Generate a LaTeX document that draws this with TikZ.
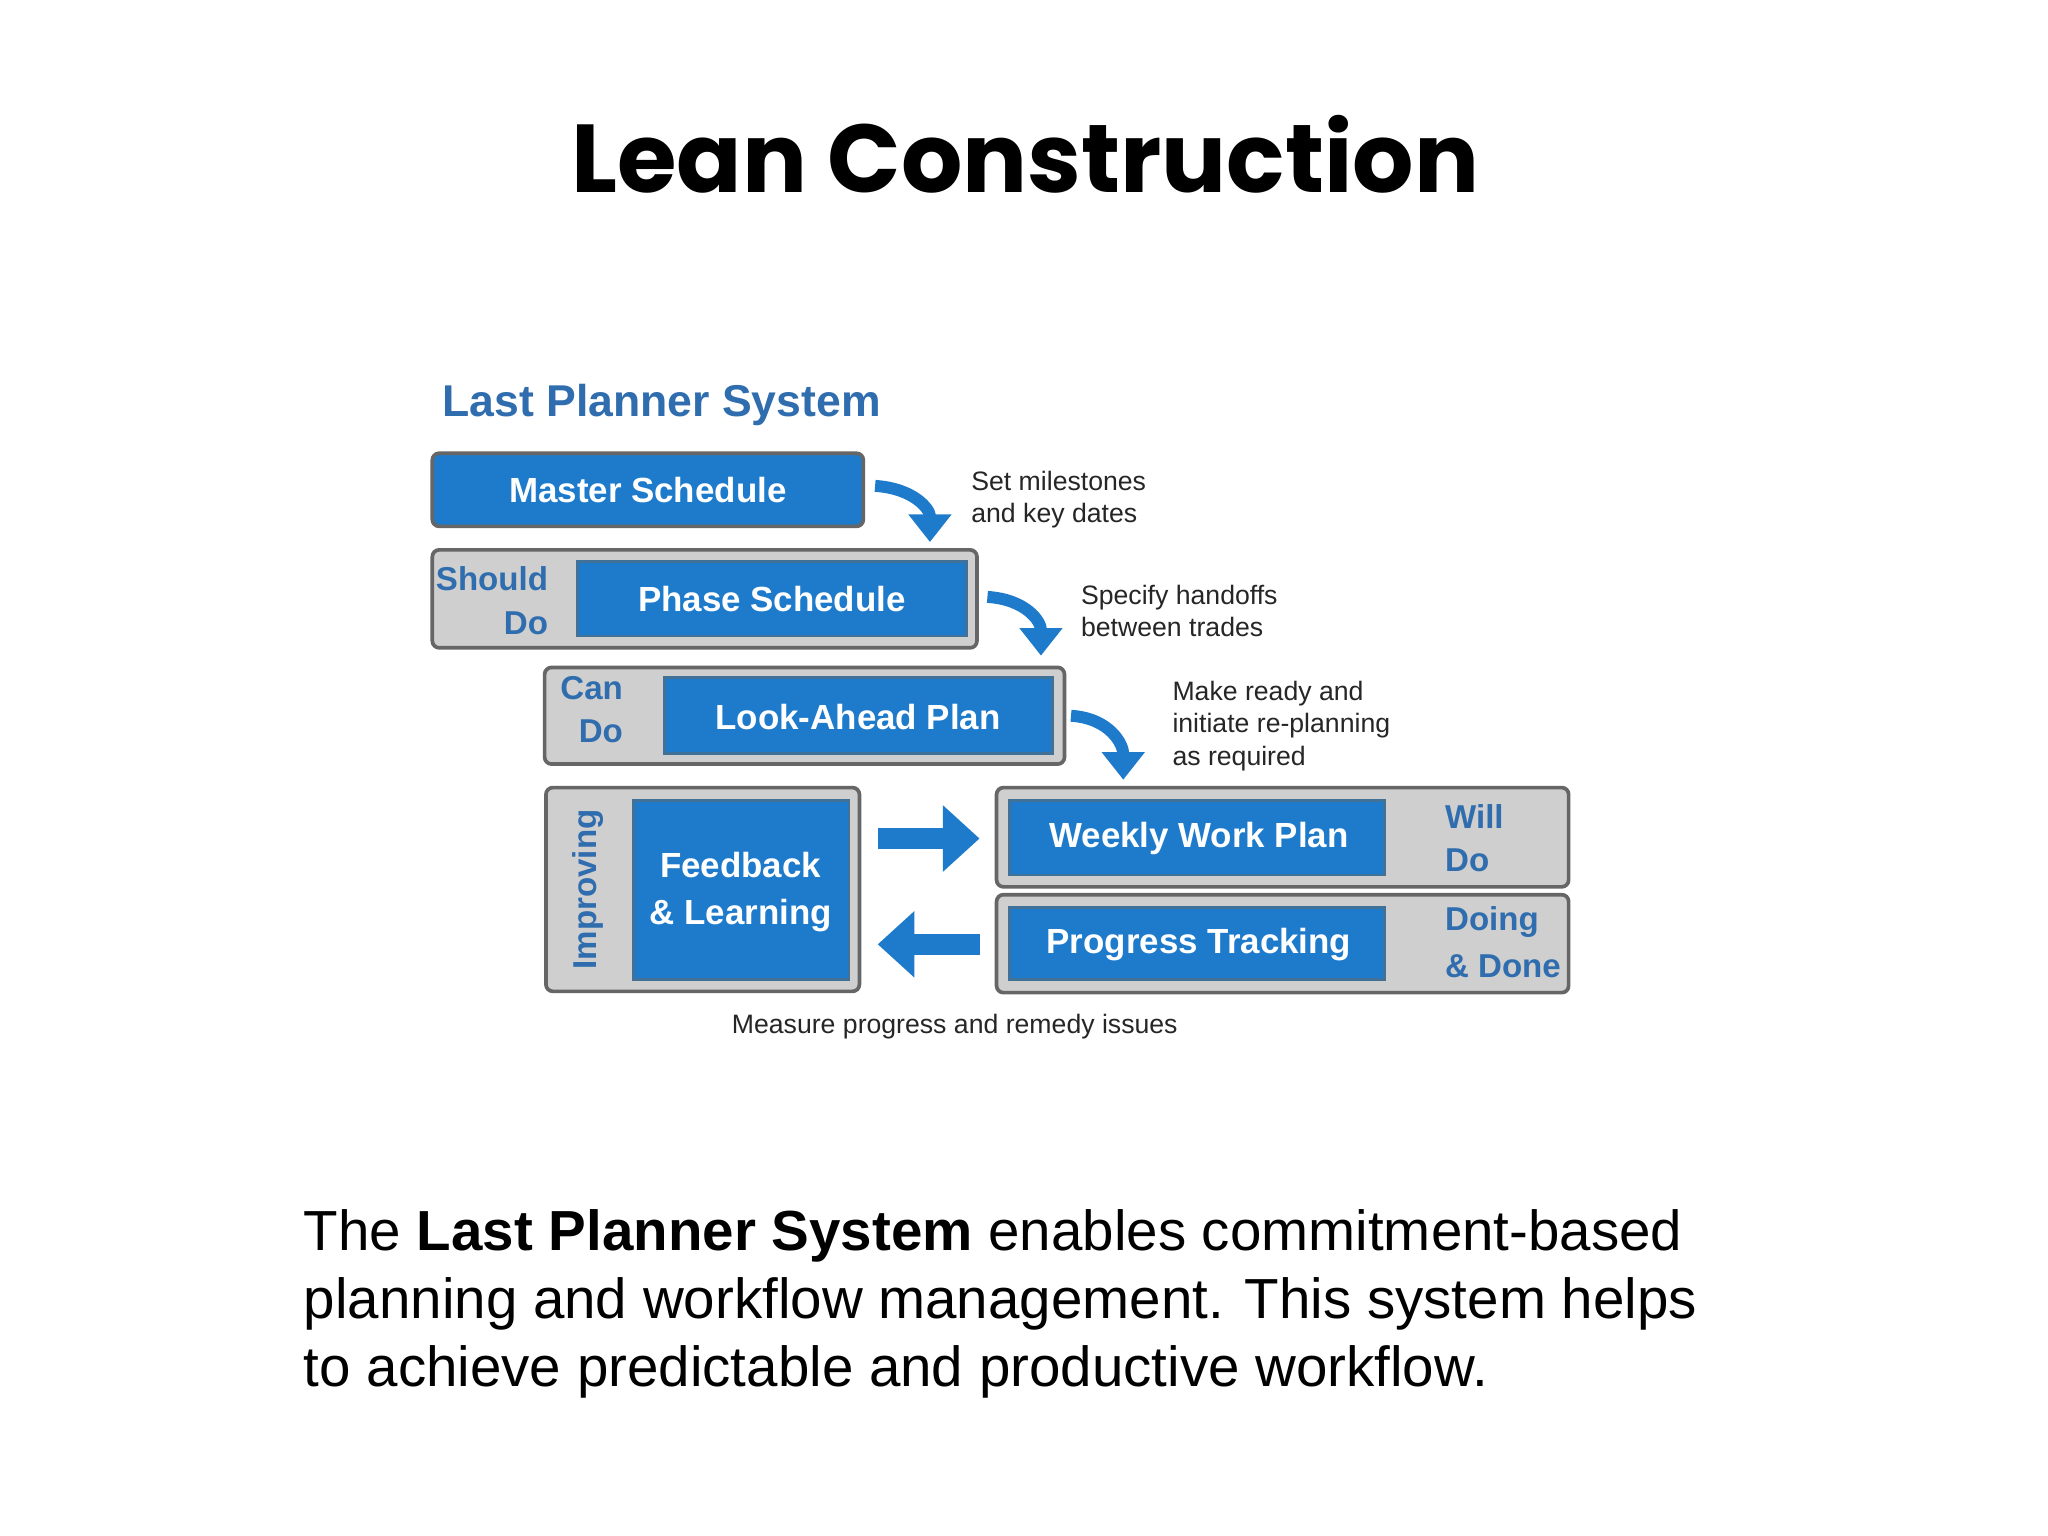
\documentclass[tikz,border=0pt]{standalone}
\usepackage{fontspec}
\setmainfont{Liberation Sans}
\newfontfamily\titlefont{Poppins}
\usetikzlibrary{arrows.meta}
\definecolor{lpblue}{HTML}{1E7BCB}
\definecolor{lpdark}{HTML}{2F6DAE}
\definecolor{lpgray}{HTML}{CFCFCF}
\definecolor{lpedge}{HTML}{666666}
\tikzset{
 graybox/.style={draw=lpedge,fill=lpgray,line width=0.8pt,rounded corners=1.5pt},
 bluebox/.style={draw=lpedge!50!lpblue,fill=lpblue,line width=0.6pt},
 boxtext/.style={text=white,font=\bfseries\fontsize{7.6}{10.2}\selectfont,align=center},
 sidetext/.style={text=lpdark,font=\bfseries\fontsize{7.2}{9}\selectfont,anchor=west},
 note/.style={font=\fontsize{5.8}{7}\selectfont,anchor=north west,align=left,inner sep=0pt,text=black!85},
 curvearrow/.style={draw=lpblue,line width=2.6pt,-{Triangle[length=6pt,width=9pt]}},
 blockarrow/.style={draw=lpblue,line width=4.5pt,-{Triangle[length=8pt,width=14pt]}}
}
\begin{document}
\begin{tikzpicture}[x=0.01cm,y=-0.01cm]
\useasboundingbox[fill=white] (0,0) rectangle (1568,1176);
\node[font=\titlefont\bfseries\fontsize{21}{25}\selectfont] (title) at (785,118) {Lean Construction};
\node[anchor=west,text=lpdark,font=\bfseries\fontsize{9.7}{12}\selectfont,inner sep=0pt] (lps) at (338,310) {Last Planner System};
% master
\draw[bluebox,draw=lpedge,line width=0.8pt,rounded corners=1.5pt] (331,347) rectangle (661,403);
\node[boxtext] (ms) at (496,375) {Master Schedule};
% phase
\draw[graybox] (331,421) rectangle (748,496);
\draw[bluebox] (442,430) rectangle (740,487);
\node[boxtext] (ps) at (591,459) {Phase Schedule};
\node[sidetext,anchor=east] (sh) at (432,443) {Should};
\node[sidetext,anchor=east] (sd) at (432,477) {Do};
% look ahead
\draw[graybox] (417,511) rectangle (815,585);
\draw[bluebox] (509,519) rectangle (806,577);
\node[boxtext] (la) at (657,549) {Look-Ahead Plan};
\node[sidetext,anchor=center] (cn) at (453,527) {Can};
\node[sidetext,anchor=center] (cd) at (460,560) {Do};
% improving
\draw[graybox] (418,603) rectangle (658,759);
\draw[bluebox] (485,613) rectangle (650,750);
\node[boxtext] (fl) at (567,683) {Feedback\\\& Learning};
\node[sidetext,anchor=center,rotate=90] (imp) at (450,681) {Improving};
% weekly
\draw[graybox] (763,603) rectangle (1201,679);
\draw[bluebox] (773,613) rectangle (1060,670);
\node[boxtext] (ww) at (918,642) {Weekly Work Plan};
\node[sidetext] (wi) at (1094,625) {Will};
\node[sidetext] (wd) at (1094,659) {Do};
% progress
\draw[graybox] (763,685) rectangle (1201,760);
\draw[bluebox] (773,695) rectangle (1060,750);
\node[boxtext] (pt) at (918,723) {Progress Tracking};
\node[sidetext] (dg) at (1094,706) {Doing};
\node[sidetext] (dd) at (1094,740) {\& Done};
% arrows
\coordinate (a1s) at (670,372); \coordinate (a1e) at (712,415);
\coordinate (a2s) at (756,457); \coordinate (a2e) at (797,502);
\coordinate (a3s) at (820,548); \coordinate (a3e) at (860,597);
\draw[curvearrow] (a1s) .. controls (700,374) and (712,390) .. (a1e);
\draw[curvearrow] (a2s) .. controls (786,459) and (797,476) .. (a2e);
\draw[curvearrow] (a3s) .. controls (850,550) and (860,570) .. (a3e);
\coordinate (r1) at (672,642); \coordinate (r2) at (750,642);
\coordinate (l1) at (750,723); \coordinate (l2) at (672,723);
\draw[blockarrow] (r1) -- (r2);
\draw[blockarrow] (l1) -- (l2);
% notes
\node[note] (n1) at (743,360) {Set milestones\\and key dates};
\node[note] (n2) at (827,447) {Specify handoffs\\between trades};
\node[note] (n3) at (897,521) {Make ready and\\initiate re-planning\\as required};
\node[note,anchor=center] (n4) at (731,786) {Measure progress and remedy issues};
% paragraph
\node[anchor=north west,align=left,inner sep=0pt,font=\fontsize{12.3}{14.9}\selectfont] (para) at (232,925)
 {The \textbf{Last Planner System} enables commitment-based\\planning and workflow management. This system helps\\to achieve predictable and productive workflow.};
\end{tikzpicture}
\end{document}
